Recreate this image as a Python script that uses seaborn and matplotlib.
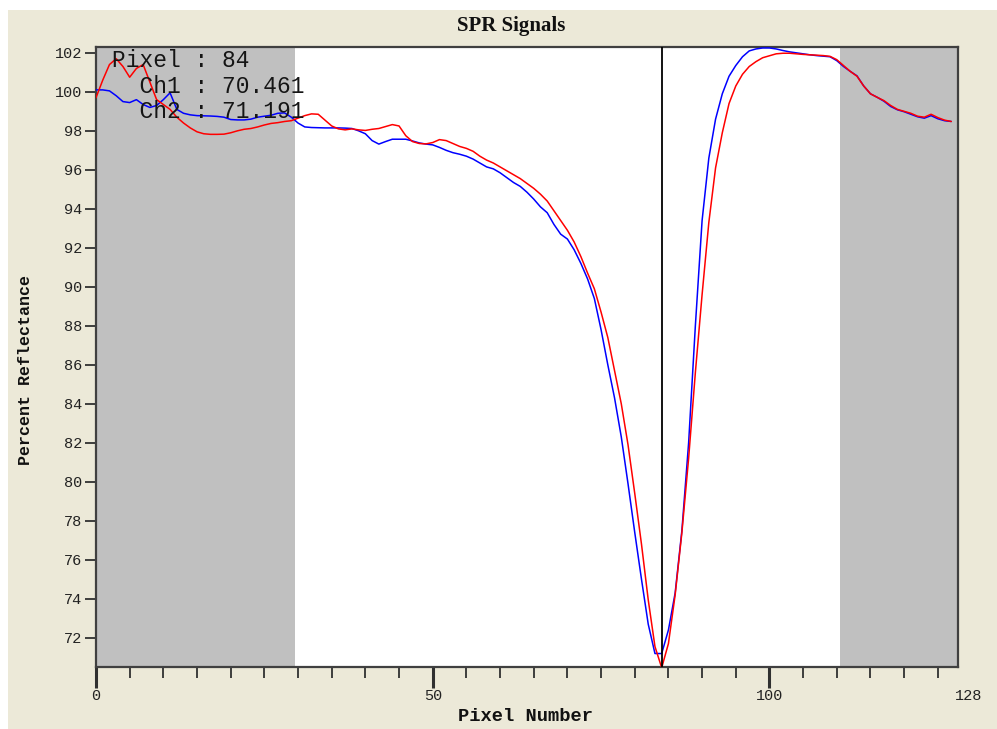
import numpy as np
import pandas as pd
import matplotlib
matplotlib.use('Agg')
import matplotlib.pyplot as plt
import seaborn as sns
from matplotlib.patches import Rectangle
from matplotlib.transforms import ScaledTranslation
from matplotlib.ticker import FixedLocator

# ---------------- data ----------------
pixels = list(range(128))

ch1 = [99.7, 100.6, 101.4, 101.7, 101.3, 100.75, 101.2, 101.4, 100.5, 99.6,
       99.35, 99.1, 98.7, 98.4, 98.15, 97.95, 97.85, 97.82, 97.82, 97.83,
       97.9, 98.0, 98.08, 98.12, 98.2, 98.3, 98.38, 98.42, 98.48, 98.52,
       98.65, 98.78, 98.87, 98.85, 98.55, 98.25, 98.1, 98.05, 98.1, 98.05,
       98.02, 98.08, 98.12, 98.22, 98.32, 98.25, 97.75, 97.45, 97.35, 97.33,
       97.4, 97.55, 97.5, 97.35, 97.2, 97.1, 96.95, 96.7, 96.5, 96.35,
       96.15, 95.95, 95.75, 95.55, 95.3, 95.05, 94.75, 94.4, 93.9, 93.4,
       92.9, 92.3, 91.55, 90.7, 89.9, 88.7, 87.4, 85.7, 84.0, 81.9,
       79.4, 76.8, 73.95, 71.55, 70.461, 71.7, 74.2, 77.4, 81.2, 85.6,
       89.6, 93.3, 96.1, 97.9, 99.4, 100.3, 100.9, 101.3, 101.55, 101.75,
       101.85, 101.95, 101.98, 101.98, 101.95, 101.92, 101.9, 101.88, 101.86, 101.82,
       101.65, 101.35, 101.05, 100.8, 100.3, 99.9, 99.72, 99.55, 99.3, 99.1,
       99.0, 98.9, 98.75, 98.7, 98.85, 98.68, 98.55, 98.48]

ch2 = [100.1, 100.1, 100.05, 99.8, 99.5, 99.45, 99.6, 99.35, 99.2, 99.3,
       99.6, 99.95, 99.1, 98.9, 98.82, 98.78, 98.77, 98.76, 98.74, 98.7,
       98.58, 98.56, 98.56, 98.6, 98.7, 98.75, 98.8, 98.9, 98.92, 98.7,
       98.4, 98.2, 98.17, 98.16, 98.15, 98.15, 98.15, 98.14, 98.12, 98.0,
       97.85, 97.5, 97.32, 97.45, 97.57, 97.57, 97.57, 97.48, 97.38, 97.32,
       97.28, 97.15, 97.0, 96.88, 96.8, 96.7, 96.55, 96.35, 96.15, 96.05,
       95.85, 95.6, 95.35, 95.15, 94.85, 94.5, 94.1, 93.8, 93.2, 92.7,
       92.45, 91.9, 91.2, 90.4, 89.4, 87.8, 86.0, 84.3, 82.3, 79.9,
       77.4, 75.0, 72.7, 71.191, 71.191, 72.4, 74.3, 77.5, 82.0, 88.0,
       93.4, 96.6, 98.6, 99.9, 100.8, 101.35, 101.8, 102.1, 102.2, 102.25,
       102.25, 102.2, 102.12, 102.05, 102.0, 101.95, 101.9, 101.86, 101.83, 101.8,
       101.6, 101.3, 101.05, 100.82, 100.3, 99.9, 99.72, 99.52, 99.25, 99.08,
       98.98, 98.85, 98.72, 98.65, 98.78, 98.62, 98.52, 98.48]

cursor_pixel = 84
cursor_ch1 = "70.461"
cursor_ch2 = "71.191"
shade_left = (0, 29.5)
shade_right = (110.5, 128)
x_major = [0, 50, 100, 128]
x_minor = list(range(0, 128, 5))
y_ticks = list(range(72, 103, 2))

df = pd.DataFrame({
    "Pixel": pixels * 2,
    "Reflectance": ch2 + ch1,
    "Channel": ["Ch2"] * len(pixels) + ["Ch1"] * len(pixels),
})

# ---------------- style ----------------
sns.set_style("white")
plt.rcParams['font.family'] = ['Liberation Mono', 'DejaVu Sans']

W, H = 997, 729
fig = plt.figure(figsize=(W / 100, H / 100), dpi=100, facecolor='white')
fig.patches.append(Rectangle((8 / W, 0), 1 - 8 / W, 1 - 10 / H,
                             transform=fig.transFigure, facecolor='#ECE9D8',
                             edgecolor='none', zorder=-10))

ax = fig.add_axes([96 / W, 62 / H, 862 / W, 620 / H])
ax.set_facecolor('white')

ax.axvspan(*shade_left, color='#C0C0C0', lw=0, zorder=0)
ax.axvspan(*shade_right, color='#C0C0C0', lw=0, zorder=0)

sns.lineplot(data=df, x="Pixel", y="Reflectance", hue="Channel",
             hue_order=["Ch2", "Ch1"],
             palette={"Ch2": "#0000FF", "Ch1": "#FF0000"},
             linewidth=1.1, legend=False, ax=ax, zorder=3)

ax.axvline(cursor_pixel, color='black', lw=1.3, zorder=4)

ax.set_xlim(0, 128)
ax.set_ylim(70.5, 102.3)

ax.xaxis.set_major_locator(FixedLocator(x_major))
ax.xaxis.set_minor_locator(FixedLocator(x_minor))
ax.set_xticklabels([str(v) for v in x_major])
ax.set_yticks(y_ticks)
ax.set_yticklabels([str(v) for v in y_ticks])

tick_col = '#222222'
ax.tick_params(axis='x', which='major', direction='out', length=15, width=2.2,
               color='#303030', pad=1, labelsize=11, labelcolor=tick_col)
ax.tick_params(axis='x', which='minor', direction='out', length=8, width=1.3,
               color='#303030')
ax.tick_params(axis='y', which='major', direction='out', length=8, width=1.3,
               color='#303030', pad=2, labelsize=11, labelcolor=tick_col)
ax.tick_params(bottom=True, left=True, which='both')

# hide the tick mark at 128 and nudge its label to the right
last = ax.xaxis.get_major_ticks()[-1]
last.tick1line.set_visible(False)
last.label1.set_transform(last.label1.get_transform() +
                          ScaledTranslation(11 / 100, 0, fig.dpi_scale_trans))

for s in ax.spines.values():
    s.set_visible(True)
    s.set_color('#404040')
    s.set_linewidth(1.6)

ax.set_xlabel('Pixel Number', fontsize=13.5, fontweight='bold', color='#111111')
ax.set_ylabel('Percent Reflectance', fontsize=12, fontweight='bold', color='#111111')
ax.xaxis.set_label_coords((525 - 96) / 862, (667 - 708) / 620)
ax.yaxis.set_label_coords((33 - 96) / 862, (667 - 370) / 620)

fig.text(511 / W, 1 - 26 / H, 'SPR Signals', ha='center', va='center',
         family=['Liberation Serif', 'DejaVu Serif'], fontweight='bold',
         fontsize=15, color='#111111')

# cursor readout
txt_kw = dict(transform=ax.transAxes, fontsize=16.5, color='#151515',
              va='baseline', ha='left', zorder=6)
x0 = (112 - 96) / 862
ax.text(x0, (667 - 67) / 620, f"Pixel : {cursor_pixel}", **txt_kw)
ax.text(x0, (667 - 93) / 620, f"  Ch1 : {cursor_ch1}", **txt_kw)
ax.text(x0, (667 - 118) / 620, f"  Ch2 : {cursor_ch2}", **txt_kw)

fig.savefig('out.png', dpi=100, facecolor=fig.get_facecolor())
